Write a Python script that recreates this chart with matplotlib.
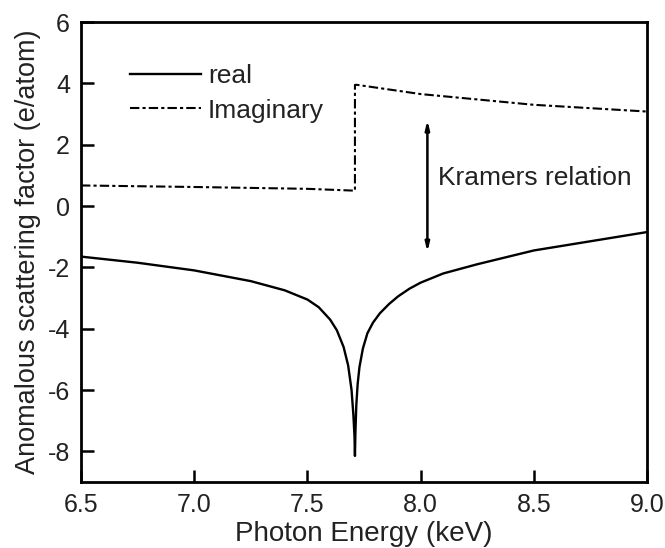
import matplotlib
matplotlib.use('Agg')
import matplotlib.pyplot as plt

plt.rcParams['font.family'] = ['Liberation Sans', 'DejaVu Sans']
plt.rcParams['axes.unicode_minus'] = False

# real part f' (e/atom)
real_energy = [6.5, 6.75, 7.0, 7.25, 7.4, 7.5, 7.55, 7.6, 7.63, 7.66, 7.68, 7.695, 7.703, 7.708, 7.71,
               7.712, 7.716, 7.722, 7.73, 7.745, 7.765, 7.79, 7.82, 7.86, 7.9, 7.95, 8.0, 8.1,
               8.25, 8.5, 8.75, 9.0]
real_f = [-1.65, -1.85, -2.1, -2.45, -2.75, -3.05, -3.3, -3.7, -4.05, -4.6, -5.2, -6.0, -6.8, -7.5, -8.15,
          -7.4, -6.5, -5.8, -5.25, -4.65, -4.15, -3.8, -3.5, -3.2, -2.95, -2.7, -2.5, -2.2,
          -1.9, -1.45, -1.15, -0.85]

# imaginary part f'' (e/atom)
imag_energy = [6.5, 7.0, 7.5, 7.71, 7.71, 7.72, 8.0, 8.5, 9.0]
imag_f = [0.67, 0.62, 0.56, 0.5, 3.95, 3.95, 3.65, 3.3, 3.08]

fig = plt.figure(figsize=(6.65, 5.48), dpi=100)
ax = fig.add_axes([81 / 665, 1 - 482 / 548, 566 / 665, 460 / 548])

ax.plot(real_energy, real_f, color='black', lw=1.7, label='real')
ax.plot(imag_energy, imag_f, color='black', lw=1.5, dashes=[4.5, 1.5, 1.5, 1.5], label='Imaginary')

# Kramers relation arrow
ax.annotate('', xy=(8.03, 2.8), xytext=(8.03, -1.5),
            arrowprops=dict(arrowstyle='<|-|>,head_width=0.12,head_length=0.5', lw=1.8, color='black',
                            shrinkA=0, shrinkB=0))
ax.text(8.075, 0.9, 'Kramers relation', fontsize=19, va='center', ha='left', color='#222222')

ax.set_xlim(6.5, 9.0)
ax.set_ylim(-9, 6)
ax.set_xticks([6.5, 7.0, 7.5, 8.0, 8.5, 9.0])
ax.set_xticklabels(['6.5', '7.0', '7.5', '8.0', '8.5', '9.0'])
ax.set_yticks([-8, -6, -4, -2, 0, 2, 4, 6])
ax.tick_params(direction='in', length=9, width=1.8, labelsize=18, pad=8, labelcolor='#222222')
for s in ax.spines.values():
    s.set_linewidth(2)

ax.set_xlabel('Photon Energy (keV)', fontsize=20, labelpad=3, color='#222222')
ax.set_ylabel('Anomalous scattering factor (e/atom)', fontsize=19.5, labelpad=5, color='#222222')

leg = ax.legend(loc='upper left', bbox_to_anchor=(0.045, 0.96), frameon=False, fontsize=19,
                handlelength=2.7, handletextpad=0.25, labelspacing=0.4)
for t in leg.get_texts():
    t.set_color('#222222')

plt.savefig('out.png', dpi=100)
